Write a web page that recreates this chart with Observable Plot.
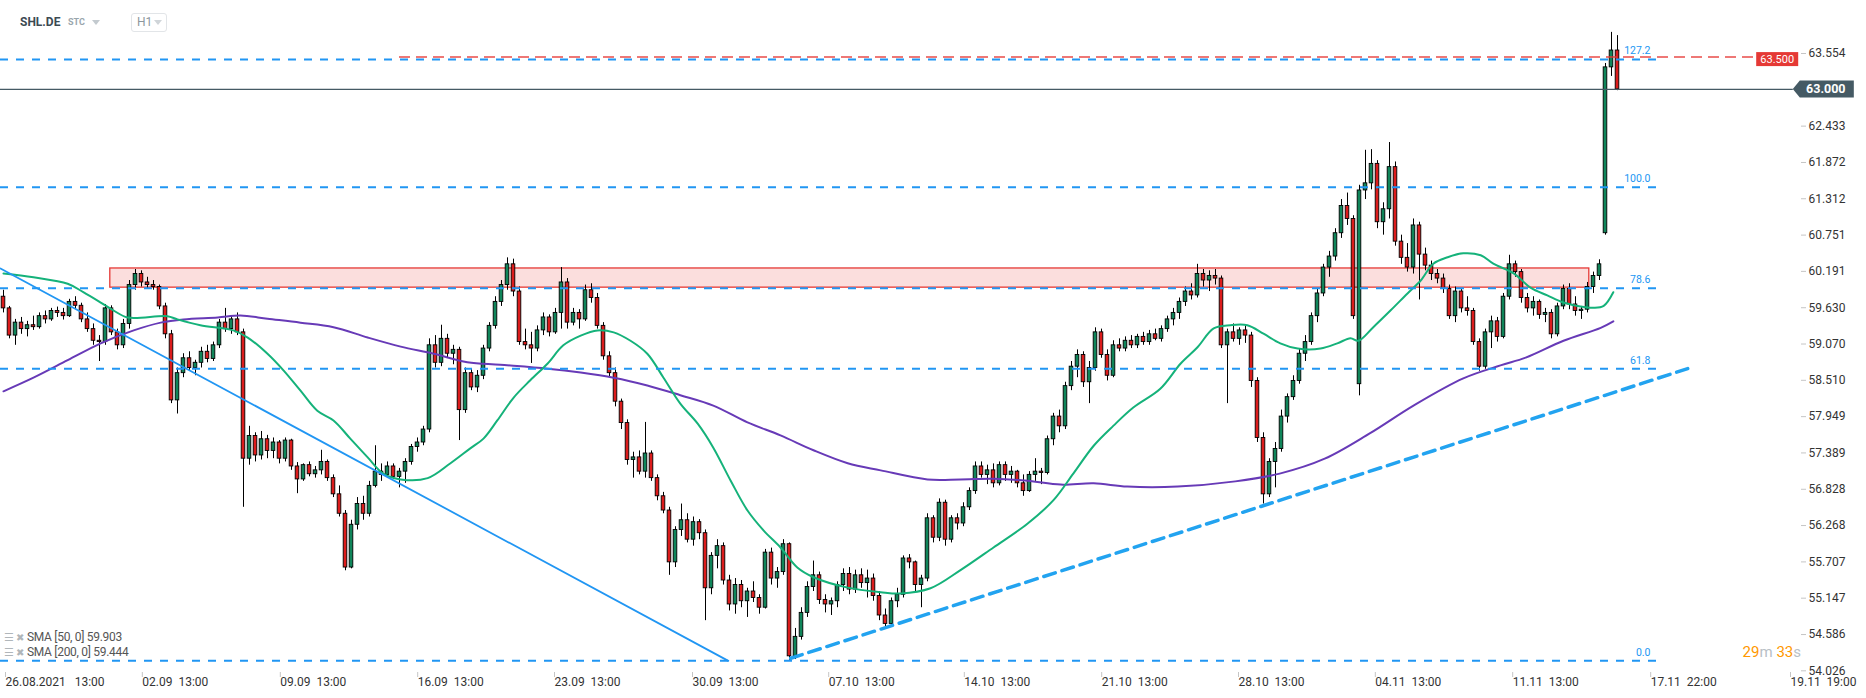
<!DOCTYPE html>
<html>
<head>
<meta charset="utf-8">
<script src="https://cdn.jsdelivr.net/npm/d3@7"></script>
<script src="https://cdn.jsdelivr.net/npm/@observablehq/plot@0.6"></script>
<style>
  html, body { margin:0; padding:0; background:#fff; }
  #wrap { position:relative; width:1866px; height:698px; overflow:hidden; font-family: Roboto, "Noto Sans", sans-serif; }
  #chart svg { display:block; }
  .ov { position:absolute; white-space:pre; line-height:1; }
  .tri { position:absolute; width:0; height:0; border-left:4px solid transparent; border-right:4px solid transparent; border-top:5px solid #c3cacf; }
</style>
</head>
<body>
<div id="wrap">
  <div id="chart"></div>
  <div class="ov" style="left:20px;top:16px;font-size:12px;font-weight:700;color:#3c4a52;">SHL.DE</div>
  <div class="ov" style="left:68px;top:18px;font-size:9px;font-weight:700;color:#9aa6ad;">STC</div>
  <div class="tri" style="left:92px;top:20px;"></div>
  <div class="ov" style="left:131px;top:13px;width:34px;height:17px;border:1px solid #e2e5e8;border-radius:3px;"></div>
  <div class="ov" style="left:137px;top:16px;font-size:12px;color:#8d979d;">H1</div>
  <div class="tri" style="left:154px;top:20px;border-top-color:#d0d5d9;"></div>
  <div id="legend"></div>
  <div id="timer" class="ov" style="right:65px;top:645px;font-size:15px;"></div>
</div>
<script>
// ---------- data ----------
const candles = [
[59.80,59.90,59.55,59.62],[59.62,59.65,59.15,59.20],[59.20,59.45,59.05,59.40],[59.40,59.48,59.22,59.30],
[59.30,59.42,59.18,59.36],[59.36,59.50,59.28,59.33],[59.33,59.55,59.30,59.50],[59.50,59.58,59.38,59.45],
[59.45,59.62,59.42,59.58],[59.58,59.64,59.48,59.55],[59.55,59.62,59.44,59.50],[59.50,59.76,59.48,59.72],
[59.72,59.80,59.60,59.66],[59.66,59.70,59.40,59.45],[59.45,59.55,59.25,59.30],[59.30,59.38,59.05,59.12],
[59.12,59.20,58.80,59.10],[59.10,59.68,59.05,59.62],[59.62,59.66,59.20,59.25],[59.25,59.30,58.98,59.05],
[59.05,59.45,59.00,59.38],[59.38,60.05,59.30,59.98],[59.98,60.22,59.90,60.15],[60.15,60.20,59.95,60.02],
[60.02,60.10,59.92,59.98],[59.98,60.05,59.90,59.95],[59.95,59.98,59.60,59.65],[59.65,59.70,59.15,59.22],
[59.22,59.28,58.15,58.20],[58.20,58.70,57.99,58.62],[58.62,58.92,58.55,58.85],[58.85,58.95,58.65,58.70],
[58.70,58.82,58.58,58.78],[58.78,59.02,58.70,58.95],[58.95,59.05,58.78,58.84],[58.84,59.10,58.80,59.05],
[59.05,59.45,59.00,59.40],[59.40,59.62,59.25,59.30],[59.30,59.50,59.22,59.45],[59.45,59.55,59.20,59.25],
[59.25,59.30,56.55,57.30],[57.30,57.80,57.20,57.65],[57.65,57.70,57.25,57.35],[57.35,57.72,57.28,57.60],
[57.60,57.66,57.30,57.42],[57.42,57.62,57.30,57.55],[57.55,57.58,57.22,57.30],[57.30,57.62,57.25,57.58],
[57.58,57.60,57.12,57.18],[57.18,57.24,56.76,56.98],[56.98,57.22,56.95,57.20],[57.20,57.25,57.02,57.06],
[57.06,57.18,57.00,57.12],[57.12,57.43,57.05,57.25],[57.25,57.28,56.95,57.00],[57.00,57.05,56.70,56.75],
[56.75,56.88,56.40,56.45],[56.45,56.50,55.57,55.62],[55.62,56.35,55.60,56.28],[56.28,56.70,56.20,56.60],
[56.60,56.72,56.35,56.45],[56.45,56.95,56.40,56.88],[56.88,57.50,56.85,57.10],[57.10,57.22,56.95,57.05],
[57.05,57.25,57.00,57.18],[57.18,57.22,56.98,57.02],[57.02,57.15,56.85,57.10],[57.10,57.30,56.92,57.25],
[57.25,57.52,57.20,57.48],[57.48,57.62,57.40,57.55],[57.55,57.80,57.50,57.75],[57.75,59.15,57.70,59.05],
[59.05,59.20,58.70,58.78],[58.78,59.36,58.72,59.15],[59.15,59.22,58.85,58.92],[58.92,59.05,58.75,58.98],
[58.98,59.02,57.58,58.05],[58.05,58.70,58.00,58.62],[58.62,58.68,58.35,58.40],[58.40,58.66,58.32,58.58],
[58.58,59.05,58.52,59.00],[59.00,59.40,58.95,59.35],[59.35,59.80,59.30,59.72],[59.72,60.05,59.65,59.98],
[59.98,60.40,59.90,60.30],[60.30,60.38,59.80,59.88],[59.88,59.95,59.05,59.10],[59.10,59.30,58.98,59.05],
[59.05,59.25,58.77,59.00],[59.00,59.35,58.95,59.28],[59.28,59.55,59.20,59.48],[59.48,59.52,59.18,59.25],
[59.25,59.62,59.22,59.55],[59.55,60.25,59.30,60.02],[60.02,60.08,59.30,59.40],[59.40,59.62,59.35,59.55],
[59.55,59.60,59.30,59.45],[59.45,59.98,59.42,59.90],[59.90,60.00,59.70,59.78],[59.78,59.85,59.30,59.35],
[59.35,59.40,58.82,58.88],[58.88,58.95,58.55,58.62],[58.62,58.70,58.10,58.18],[58.18,58.22,57.75,57.85],
[57.85,57.90,57.20,57.28],[57.28,57.40,57.00,57.32],[57.32,57.42,57.05,57.10],[57.10,57.86,57.00,57.38],
[57.38,57.42,56.95,57.00],[57.00,57.05,56.65,56.72],[56.72,56.78,56.45,56.50],[56.50,56.55,55.50,55.70],
[55.70,56.25,55.62,56.20],[56.20,56.60,56.10,56.35],[56.35,56.45,56.00,56.05],[56.05,56.40,55.95,56.32],
[56.32,56.36,56.05,56.15],[56.15,56.20,54.80,55.30],[55.30,55.85,55.20,55.80],[55.80,56.05,55.60,55.95],
[55.95,56.00,55.35,55.42],[55.42,55.50,54.95,55.05],[55.05,55.45,54.90,55.35],[55.35,55.42,55.00,55.10],
[55.10,55.30,54.85,55.25],[55.25,55.40,55.08,55.15],[55.15,55.20,54.90,55.00],[55.00,55.90,54.98,55.85],
[55.85,55.92,55.35,55.45],[55.45,55.62,55.30,55.55],[55.55,56.05,55.50,55.98],[55.98,56.00,54.19,54.25],
[54.25,54.68,54.20,54.55],[54.55,55.00,54.50,54.92],[54.92,55.40,54.85,55.32],[55.32,55.72,55.25,55.50],
[55.50,55.55,55.05,55.12],[55.12,55.20,54.92,55.05],[55.05,55.15,54.88,55.10],[55.10,55.40,55.00,55.35],
[55.35,55.60,55.25,55.52],[55.52,55.62,55.20,55.28],[55.28,55.58,55.22,55.50],[55.50,55.60,55.30,55.38],
[55.38,55.58,55.15,55.45],[55.45,55.52,55.10,55.18],[55.18,55.25,54.80,54.88],[54.88,54.98,54.68,54.75],
[54.75,55.15,54.70,55.10],[55.10,55.30,55.00,55.20],[55.20,55.80,55.15,55.76],[55.76,55.82,55.60,55.70],
[55.70,55.72,55.25,55.35],[55.35,55.50,55.00,55.45],[55.45,56.45,55.40,56.38],[56.38,56.42,56.00,56.08],
[56.08,56.68,56.02,56.62],[56.62,56.66,55.95,56.05],[56.05,56.42,56.00,56.38],[56.38,56.45,56.20,56.30],
[56.30,56.62,56.25,56.55],[56.55,56.85,56.50,56.80],[56.80,57.25,56.75,57.18],[57.18,57.25,57.00,57.05],
[57.05,57.20,56.90,57.12],[57.12,57.22,56.85,56.92],[56.92,57.25,56.88,57.20],[57.20,57.25,56.95,57.05],
[57.05,57.18,56.92,57.10],[57.10,57.12,56.85,56.92],[56.92,57.05,56.72,56.80],[56.80,57.10,56.78,57.05],
[57.05,57.30,56.95,57.10],[57.10,57.15,56.90,57.08],[57.08,57.65,57.05,57.60],[57.60,58.00,57.50,57.95],
[57.95,58.05,57.70,57.80],[57.80,58.48,57.75,58.42],[58.42,58.80,58.35,58.72],[58.72,58.98,58.55,58.90],
[58.90,58.95,58.40,58.48],[58.48,58.80,58.15,58.70],[58.70,59.32,58.65,59.25],[59.25,59.30,58.85,58.90],
[58.90,58.98,58.50,58.58],[58.58,59.12,58.55,59.05],[59.05,59.15,58.95,59.00],[59.00,59.18,58.95,59.12],
[59.12,59.20,59.00,59.05],[59.05,59.22,59.00,59.18],[59.18,59.25,59.05,59.10],[59.10,59.28,59.05,59.22],
[59.22,59.30,59.12,59.15],[59.15,59.35,59.10,59.30],[59.30,59.50,59.25,59.45],[59.45,59.62,59.35,59.55],
[59.55,59.78,59.45,59.72],[59.72,59.95,59.65,59.88],[59.88,60.00,59.75,59.82],[59.82,60.30,59.78,60.15],
[60.15,60.22,59.95,60.05],[60.05,60.20,59.88,60.12],[60.12,60.22,59.98,60.08],[60.08,60.12,59.00,59.05],
[59.05,59.30,58.15,59.25],[59.25,59.38,59.10,59.15],[59.15,59.32,59.05,59.28],[59.28,59.35,59.08,59.20],
[59.20,59.25,58.40,58.50],[58.50,58.55,57.55,57.62],[57.62,57.70,56.60,56.75],[56.75,57.30,56.70,57.25],
[57.25,57.55,56.85,57.45],[57.45,58.05,57.40,57.95],[57.95,58.30,57.85,58.25],[58.25,58.58,58.20,58.50],
[58.50,59.00,58.45,58.92],[58.92,59.20,58.80,59.10],[59.10,59.55,59.05,59.50],[59.50,59.92,59.40,59.85],
[59.85,60.30,59.80,60.25],[60.25,60.50,60.10,60.42],[60.42,60.85,60.35,60.78],[60.78,61.30,60.70,61.20],
[61.20,61.40,60.90,61.00],[61.00,61.05,59.45,59.50],[58.45,61.52,58.27,61.44],[61.44,62.06,61.30,61.55],
[61.55,62.07,61.45,61.85],[61.85,61.90,60.85,60.95],[60.95,61.25,60.75,61.15],[61.15,62.18,61.00,61.80],
[61.80,61.88,60.58,60.65],[60.65,60.75,60.30,60.40],[60.40,60.62,60.18,60.25],[60.25,61.00,60.15,60.90],
[60.90,60.95,59.75,60.45],[60.45,60.55,60.20,60.28],[60.28,60.35,60.05,60.15],[60.15,60.22,60.00,60.08],
[60.08,60.15,59.85,59.92],[59.92,59.98,59.45,59.50],[59.50,59.95,59.40,59.88],[59.88,59.92,59.55,59.62],
[59.62,59.80,59.50,59.58],[59.58,59.62,59.05,59.10],[59.10,59.15,58.65,58.72],[58.72,59.30,58.68,59.25],
[59.25,59.50,59.00,59.42],[59.42,59.48,59.10,59.18],[59.18,59.85,59.15,59.80],[59.80,60.44,59.75,60.30],
[60.30,60.35,60.10,60.18],[60.18,60.22,59.70,59.78],[59.78,59.85,59.55,59.62],[59.62,59.80,59.50,59.72],
[59.72,59.75,59.45,59.52],[59.52,59.62,59.40,59.55],[59.55,59.60,59.15,59.22],[59.22,59.70,59.18,59.65],
[59.65,59.98,59.60,59.92],[59.92,60.00,59.60,59.68],[59.68,59.80,59.50,59.58],[59.58,59.65,59.45,59.60],
[59.60,60.02,59.55,59.95],[59.95,60.18,59.85,60.12],[60.12,60.37,60.05,60.30],[60.78,63.40,60.75,63.34],
[63.34,63.88,63.20,63.60],[63.60,63.83,62.98,63.00]
];

// SMA traces: [bar index, price]
const sma50 = [[0,60.16],[5,60.10],[10.7,60.00],[13.3,59.87],[16.2,59.71],[18.3,59.59],[20.7,59.48],[27.3,59.50],[29,59.45],[32.8,59.36],[38.3,59.28],[40.7,59.17],[44,58.92],[46.7,58.66],[49.5,58.35],[52.3,58.04],[55,57.89],[57.8,57.61],[60.7,57.32],[63.3,57.07],[66.2,56.98],[70.7,57.00],[74.5,57.23],[77.8,57.46],[80,57.61],[82.3,57.89],[85,58.24],[87.8,58.51],[90.7,58.77],[93.3,59.05],[96.2,59.20],[99,59.28],[101.7,59.25],[104.5,59.12],[107.3,58.92],[110,58.55],[112.8,58.15],[115.7,57.84],[118.3,57.47],[121.2,56.96],[124,56.50],[126.7,56.19],[129.5,55.93],[132.3,55.62],[135,55.47],[140.7,55.31],[146.2,55.24],[149.5,55.22],[154.5,55.30],[159.5,55.58],[165,55.93],[170.7,56.30],[175,56.66],[178.3,57.07],[181.7,57.50],[185,57.81],[188.3,58.09],[192.8,58.38],[196.2,58.77],[199,59.02],[201.7,59.31],[204.5,59.36],[207.3,59.36],[210,59.23],[212.8,59.08],[215.7,59.00],[219.5,59.00],[222.3,59.08],[224.5,59.16],[225.8,59.12],[228.3,59.33],[231.2,59.59],[234,59.85],[236.2,60.05],[238.3,60.31],[240.7,60.41],[243.3,60.47],[246.2,60.44],[248.3,60.31],[251.7,60.16],[254.5,59.94],[257.3,59.82],[260,59.71],[262.8,59.65],[265,59.63],[266.7,59.66],[268.3,59.87]];
const sma200 = [[0,58.34],[5,58.55],[10.7,58.82],[16.2,59.08],[21.7,59.28],[26.2,59.40],[30,59.45],[35.7,59.48],[39.5,59.51],[44,59.46],[49.5,59.40],[55,59.33],[60.7,59.17],[66.2,59.03],[71.7,58.92],[77.3,58.79],[82.8,58.75],[90.7,58.69],[96.2,58.63],[101.7,58.55],[107.3,58.43],[112.8,58.28],[118.3,58.12],[124,57.86],[129.5,57.66],[135,57.43],[140.7,57.23],[146.2,57.12],[154,56.98],[159.5,56.98],[165,56.99],[170.7,56.96],[176.2,56.90],[181.7,56.92],[187.3,56.87],[195.7,56.87],[205.3,56.95],[212.7,57.07],[220.2,57.30],[227.7,57.69],[235,58.12],[243.3,58.54],[249.5,58.74],[253.7,58.86],[260,59.12],[266.2,59.32],[268.3,59.42]];
const smaNames = ["SMA [50, 0]", "SMA [200, 0]"];
const smaLast = [59.903, 59.444];

const yTicks = [63.554,62.433,61.872,61.312,60.751,60.191,59.630,59.070,58.510,57.949,57.389,56.828,56.268,55.707,55.147,54.586,54.026];
const xTickPos = [0,22.8,45.8,68.7,91.5,114.5,137.2,159.8,182.7,205.5,228.3,251.2,274.2,297.5];
const xTickLabels = ["26.08.2021   13:00","02.09  13:00","09.09  13:00","16.09  13:00","23.09  13:00","30.09  13:00","07.10  13:00","14.10  13:00","21.10  13:00","28.10  13:00","04.11  13:00","11.11  13:00","17.11  22:00","19.11  19:00"];

const fibLabels = ["127.2","100.0","78.6","61.8","0.0"];
const fibPrices = [63.46,61.49,59.93,58.69,54.18];
const fibSpan = [-0.5,275.7];
const fibLabelAt = 274.5;

const zoneSpan = [17.8,264.3];
const zonePrices = [59.94,60.236];

const downTrend = [[-0.5,60.236],[120.8,54.18]];
const upTrend = [[131.2,54.22],[280.7,58.69]];

const lastPrice = 63.000;
const lastSpan = [-0.5,298.3];
const alertPrice = 63.500;
const alertSpan = [66,292.2];
const timerParts = [["29","m"],["33","s"]];

// ---------- chart ----------
const bars = candles.map(([o,h,l,c],i)=>({i,o,h,l,c}));
const ups = bars.filter(d=>d.c>=d.o), downs = bars.filter(d=>d.c<d.o);
const fib = fibLabels.map((label,k)=>({label, p: fibPrices[k]}));
const labelMap = new Map(xTickPos.map((p,k)=>[p, xTickLabels[k].replace(/ /g,"\u00a0")]));
const BLUE = "#2196f3";

const plot = Plot.plot({
  width:1866, height:698,
  marginLeft:0, marginRight:66, marginTop:0, marginBottom:26,
  x:{domain:[-0.5,299.5], axis:null, label:null},
  y:{domain:[54.0,64.372], axis:null, label:null},
  style:{fontFamily:"Roboto, sans-serif", fontSize:"12px", color:"#333", background:"#fff"},
  marks:[
    Plot.rect([0], {x1:zoneSpan[0], x2:zoneSpan[1], y1:zonePrices[0], y2:zonePrices[1], fill:"#e53935", fillOpacity:0.17, stroke:"#e53935", strokeWidth:1.3}),
    Plot.ruleX(bars, {x:"i", y1:"l", y2:"h", stroke:"#000", strokeWidth:1}),
    Plot.rect(ups, {x1:d=>d.i-0.3, x2:d=>d.i+0.3, y1:"o", y2:"c", fill:"#10855a", stroke:"#000", strokeWidth:0.9}),
    Plot.rect(downs, {x1:d=>d.i-0.3, x2:d=>d.i+0.3, y1:"o", y2:"c", fill:"#dc1c1c", stroke:"#000", strokeWidth:0.9}),
    Plot.line(sma200, {x:d=>d[0], y:d=>d[1], stroke:"#673ab7", strokeWidth:2, curve:"catmull-rom"}),
    Plot.line(sma50, {x:d=>d[0], y:d=>d[1], stroke:"#15b27a", strokeWidth:2, curve:"catmull-rom"}),
    Plot.ruleY(fib, {y:"p", x1:fibSpan[0], x2:fibSpan[1], stroke:BLUE, strokeWidth:2, strokeDasharray:"8,8"}),
    Plot.text(fib, {x:fibLabelAt, y:"p", text:"label", dy:-8.5, textAnchor:"end", fill:BLUE, fontSize:10.5}),
    Plot.ruleY([alertPrice], {x1:alertSpan[0], x2:alertSpan[1], stroke:"#e53935", strokeWidth:1.6, strokeDasharray:"11,6", strokeOpacity:0.9}),
    Plot.line(downTrend, {x:d=>d[0], y:d=>d[1], stroke:BLUE, strokeWidth:1.8}),
    Plot.line(upTrend, {x:d=>d[0], y:d=>d[1], stroke:"#22a3f0", strokeWidth:3.5, strokeDasharray:"12,7"}),
    Plot.ruleY([lastPrice], {x1:lastSpan[0], x2:lastSpan[1], stroke:"#455a64", strokeWidth:1.2}),
    Plot.axisY({ticks:yTicks, anchor:"right", label:null, tickSize:5, tickPadding:3, tickFormat:d3.format(".3f"), fontSize:12, fill:"#333", stroke:"#c5c5c5"}),
    Plot.axisX({ticks:xTickPos, anchor:"bottom", label:null, tickSize:5, tickPadding:0, tickFormat:d=>labelMap.get(d), textAnchor:"start", dx:2, fontSize:12, fill:"#333", stroke:"#c5c5c5"})
  ]
});
document.getElementById("chart").appendChild(plot);

// price tags placed with the plot's own scales
const xs = plot.scale("x"), ys = plot.scale("y");
const svg = d3.select(plot);
const yL = ys.apply(lastPrice), xL = xs.apply(lastSpan[1]);
const tag = svg.append("g");
tag.append("path").attr("d", `M${xL},${yL}L${xL+7},${yL-8.5}H${xL+61}V${yL+8.5}H${xL+7}Z`).attr("fill","#455a64");
tag.append("text").attr("x", xL+33).attr("y", yL).attr("dy","0.35em").attr("text-anchor","middle")
   .attr("fill","#fff").attr("font-weight","700").attr("font-size","12.5px").text(d3.format(".3f")(lastPrice));
const yA = ys.apply(fibPrices[0]), xA = xs.apply(alertSpan[1]);
tag.append("rect").attr("x", xA).attr("y", yA-7).attr("width", 42).attr("height", 14).attr("fill","#e53935");
tag.append("text").attr("x", xA+21).attr("y", yA).attr("dy","0.35em").attr("text-anchor","middle")
   .attr("fill","#fff").attr("font-size","11px").text(d3.format(".3f")(alertPrice));

// legend
const legend = document.getElementById("legend");
smaNames.forEach((name,k)=>{
  const row = document.createElement("div");
  row.className = "ov";
  row.style.left = "4px"; row.style.top = (631 + k*15) + "px";
  row.style.fontSize = "12px"; row.style.color = "#555";
  row.innerHTML = `<span style="color:#b0b6ba;font-size:11px">☰</span><span style="color:#b0b6ba;font-size:10px;margin-left:2px">✖</span><span style="margin-left:3px;letter-spacing:-0.3px">${name} ${d3.format(".3f")(smaLast[k])}</span>`;
  legend.appendChild(row);
});
document.getElementById("timer").innerHTML = timerParts.map(([n,u])=>`<span style="color:#ff9800">${n}</span><span style="color:#b8c0c5">${u}</span>`).join(" ");
</script>
</body>
</html>
